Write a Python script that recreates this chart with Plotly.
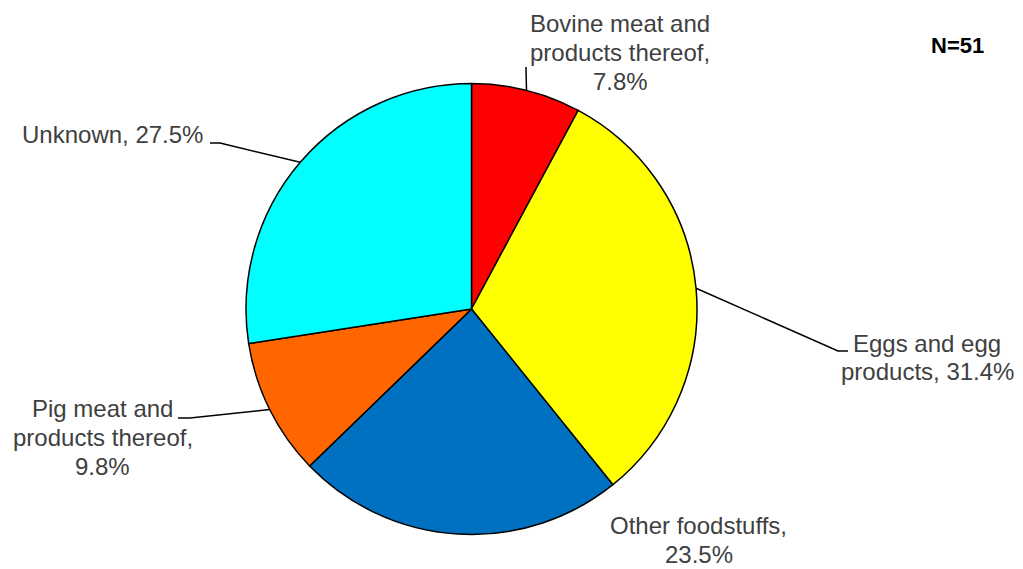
import math
import plotly.graph_objects as go

categories = ["Bovine meat and products thereof", "Eggs and egg products",
              "Other foodstuffs", "Pig meat and products thereof", "Unknown"]
counts = [4, 16, 12, 5, 14]
colors = ["#FF0000", "#FFFF00", "#0070C0", "#FF6600", "#00FFFF"]
label_lines = [
    ["Bovine meat and", "products thereof,", "7.8%"],
    ["Eggs and egg", "products, 31.4%"],
    ["Other foodstuffs,", "23.5%"],
    ["Pig meat and", "products thereof,", "9.8%"],
    ["Unknown, 27.5%"],
]
n_total = 51

W, H = 1023, 569
CX, CY, R = 471.5, 309.0, 225.5
LINE_STEP = 28.8
FONT = "Arial, Liberation Sans, sans-serif"

def px(x):
    return x / W

def py(y):
    return 1 - y / H

fig = go.Figure()
fig.add_trace(go.Pie(
    labels=categories, values=counts, sort=False, direction="clockwise",
    rotation=0, textinfo="none", hoverinfo="label+percent",
    marker=dict(colors=colors, line=dict(color="black", width=1.5)),
    domain=dict(x=[px(CX - R), px(CX + R)], y=[py(CY + R), py(CY - R)]),
    showlegend=False,
))

# centre x and first-line centre y of each label block (pixels)
label_pos = [(620, 23.5), (927, 343), (698.5, 525.5), (102.5, 408.5), (112.5, 135)]
# elbow points for leader lines (pixels), None = no leader
elbows = [
    [(526, 67)],
    [(848, 351), (838, 351)],
    None,
    [(178, 418), (190, 418)],
    [(210, 143), (220, 143)],
]

total = sum(counts)
cum = 0
annotations = []
shapes = []
for i, v in enumerate(counts):
    mid = (cum + v / 2) / total * 2 * math.pi
    cum += v
    ex = CX + R * math.sin(mid)
    ey = CY - R * math.cos(mid)
    x0, y0 = label_pos[i]
    for k, line in enumerate(label_lines[i]):
        annotations.append(dict(
            x=px(x0), y=py(y0 + k * LINE_STEP), xref="paper", yref="paper", text=line,
            showarrow=False, xanchor="center", yanchor="middle", align="center",
            borderpad=0,
            font=dict(family=FONT, size=24, color="#404040"),
        ))
    if elbows[i]:
        pts = elbows[i] + [(ex, ey)]
        path = "M " + " L ".join(f"{px(a)},{py(b)}" for a, b in pts)
        shapes.append(dict(type="path", xref="paper", yref="paper", path=path,
                           line=dict(color="black", width=1.5)))

annotations.append(dict(
    x=px(957), y=py(46), xref="paper", yref="paper", text=f"<b>N={n_total}</b>",
    showarrow=False, xanchor="center", yanchor="middle",
    font=dict(family=FONT, size=22, color="black"),
))

fig.update_layout(
    width=W, height=H, margin=dict(l=0, r=0, t=0, b=0),
    paper_bgcolor="white", plot_bgcolor="white",
    annotations=annotations, shapes=shapes,
)
fig.write_html("out.html", config={"displayModeBar": False},
               post_script="document.body.style.margin='0';")
